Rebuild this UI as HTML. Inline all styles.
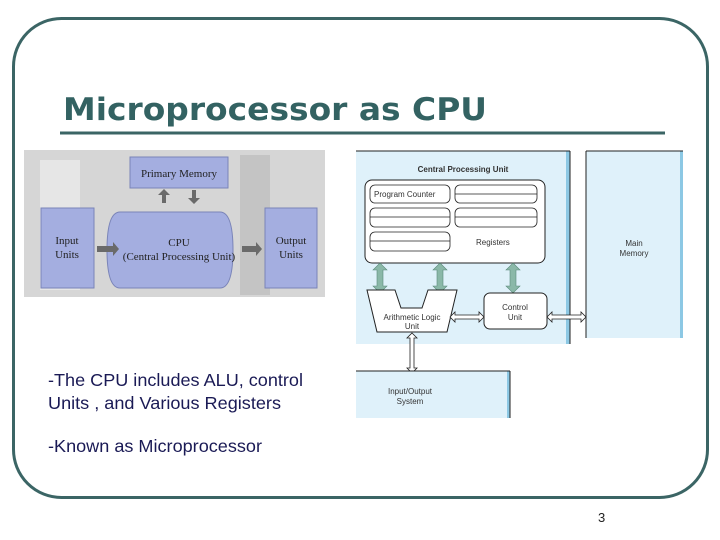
<!DOCTYPE html>
<html><head><meta charset="utf-8"><style>
html,body{margin:0;padding:0;background:#fff;width:720px;height:540px;overflow:hidden}
</style></head><body>
<svg width="720" height="540" viewBox="0 0 720 540" xmlns="http://www.w3.org/2000/svg" font-family="Liberation Sans, sans-serif">
<rect x="13.5" y="18.5" width="694" height="479" rx="48" fill="none" stroke="#3b6565" stroke-width="3"/>
<text x="63" y="120" font-family="DejaVu Sans, sans-serif" font-size="31" font-weight="bold" fill="#336262" textLength="424" lengthAdjust="spacingAndGlyphs">Microprocessor as CPU</text>
<rect x="60" y="131.5" width="605" height="3" fill="#3b6565"/>

<!-- left diagram -->
<rect x="24" y="150" width="301" height="147" fill="#d6d6d6"/>
<rect x="40" y="160" width="40" height="130" fill="#e6e6e6"/>
<rect x="240" y="155" width="30" height="140" fill="#c4c4c4"/>
<rect x="130" y="157" width="98" height="31" fill="#a4aee0" stroke="#7a84b8"/>
<text x="179" y="177" font-family="Liberation Serif, serif" font-size="11" text-anchor="middle" fill="#222">Primary Memory</text>
<path d="M162 203 v-8 h-4 l6 -6 l6 6 h-4 v8z" fill="#6a6a6a"/>
<path d="M192 190 v8 h-4 l6 6 l6 -6 h-4 v-8z" fill="#6a6a6a"/>
<rect x="41" y="208" width="53" height="80" fill="#a4aee0" stroke="#7a84b8"/>
<text x="67" y="244" font-family="Liberation Serif, serif" font-size="11" text-anchor="middle" fill="#222">Input</text>
<text x="67" y="258" font-family="Liberation Serif, serif" font-size="11" text-anchor="middle" fill="#222">Units</text>
<path d="M120 212 h100 q13 0 13 38 q0 38 -13 38 h-100 q-13 0 -13 -38 q0 -38 13 -38z" fill="#a4aee0" stroke="#7a84b8"/>
<text x="179" y="246" font-family="Liberation Serif, serif" font-size="11" text-anchor="middle" fill="#222">CPU</text>
<text x="179" y="260" font-family="Liberation Serif, serif" font-size="11" text-anchor="middle" fill="#222">(Central Processing Unit)</text>
<rect x="265" y="208" width="52" height="80" fill="#a4aee0" stroke="#7a84b8"/>
<text x="291" y="244" font-family="Liberation Serif, serif" font-size="11" text-anchor="middle" fill="#222">Output</text>
<text x="291" y="258" font-family="Liberation Serif, serif" font-size="11" text-anchor="middle" fill="#222">Units</text>
<path d="M97 246 h16 v-4 l6 7 l-6 7 v-4 h-16z" fill="#6a6a6a"/>
<path d="M242 246 h14 v-4 l6 7 l-6 7 v-4 h-14z" fill="#6a6a6a"/>

<!-- right diagram -->
<rect x="356" y="151" width="214" height="193" fill="#dff1fa"/>
<rect x="566" y="151" width="4" height="193" fill="#8cc8e4"/>
<line x1="356" y1="151" x2="570" y2="151" stroke="#222" stroke-width="1"/>
<line x1="570" y1="151" x2="570" y2="344" stroke="#222" stroke-width="1"/>
<rect x="586" y="151" width="97" height="187" fill="#dff1fa"/>
<rect x="680" y="151" width="3" height="187" fill="#8cc8e4"/>
<line x1="586" y1="151" x2="683" y2="151" stroke="#222"/>
<line x1="586" y1="151" x2="586" y2="338" stroke="#222"/>
<text x="463" y="172" font-size="8" font-weight="bold" text-anchor="middle" fill="#333">Central Processing Unit</text>
<text x="634" y="246" font-size="8" text-anchor="middle" fill="#333">Main</text>
<text x="634" y="256" font-size="8" text-anchor="middle" fill="#333">Memory</text>
<rect x="365" y="180" width="180" height="83" rx="7" fill="#fff" stroke="#222"/>
<g fill="none" stroke="#222" stroke-width="0.8">
<rect x="370" y="185" width="80" height="18" rx="5"/>
<rect x="455" y="185" width="82" height="18" rx="5"/>
<rect x="370" y="208" width="80" height="19" rx="5"/>
<rect x="455" y="208" width="82" height="19" rx="5"/>
<rect x="370" y="232" width="80" height="19" rx="5"/>
<line x1="455" y1="194" x2="537" y2="194"/>
<line x1="370" y1="217" x2="450" y2="217"/>
<line x1="455" y1="217" x2="537" y2="217"/>
<line x1="370" y1="241" x2="450" y2="241"/>
</g>
<text x="374" y="197" font-size="8" fill="#333">Program Counter</text>
<text x="476" y="245" font-size="8" fill="#333">Registers</text>
<g fill="#8ab8a8" stroke="#5a8a7a" stroke-width="0.6">
<path d="M380 263 l7 7 h-4 v16 h4 l-7 7 l-7 -7 h4 v-16 h-4z"/>
<path d="M440 263 l7 7 h-4 v16 h4 l-7 7 l-7 -7 h4 v-16 h-4z"/>
<path d="M513 263 l7 7 h-4 v16 h4 l-7 7 l-7 -7 h4 v-16 h-4z"/>
</g>
<path d="M367 290 h28 l6 18 h21 l6 -18 h29 l-10 42 h-70z" fill="#fff" stroke="#222"/>
<text x="412" y="320" font-size="8" text-anchor="middle" fill="#333">Arithmetic Logic</text>
<text x="412" y="329" font-size="8" text-anchor="middle" fill="#333">Unit</text>
<rect x="484" y="293" width="63" height="36" rx="6" fill="#fff" stroke="#222"/>
<text x="515" y="310" font-size="8" text-anchor="middle" fill="#333">Control</text>
<text x="515" y="320" font-size="8" text-anchor="middle" fill="#333">Unit</text>
<g fill="#fff" stroke="#222" stroke-width="0.8">
<path d="M450 317 l5 -5 v3 h24 v-3 l5 5 l-5 5 v-3 h-24 v3z"/>
<path d="M547 317 l5 -5 v3 h29 v-3 l5 5 l-5 5 v-3 h-29 v3z"/>
<path d="M412 333 l5 5 h-3 v30 h3 l-5 5 l-5 -5 h3 v-30 h-3z"/>
</g>
<rect x="356" y="371" width="154" height="47" fill="#dff1fa"/>
<rect x="507" y="371" width="3" height="47" fill="#8cc8e4"/>
<line x1="356" y1="371" x2="510" y2="371" stroke="#222"/>
<line x1="510" y1="371" x2="510" y2="418" stroke="#222"/>
<text x="410" y="394" font-size="8" text-anchor="middle" fill="#333">Input/Output</text>
<text x="410" y="404" font-size="8" text-anchor="middle" fill="#333">System</text>

<g font-size="17.5" fill="#1a1a55">
<text x="48" y="386" textLength="255" lengthAdjust="spacingAndGlyphs">-The CPU includes ALU, control</text>
<text x="48" y="409" textLength="233" lengthAdjust="spacingAndGlyphs">Units , and Various Registers</text>
<text x="48" y="452" textLength="214" lengthAdjust="spacingAndGlyphs">-Known as Microprocessor</text>
</g>
<text x="598" y="522" font-size="13" fill="#222">3</text>
</svg>
</body></html>
